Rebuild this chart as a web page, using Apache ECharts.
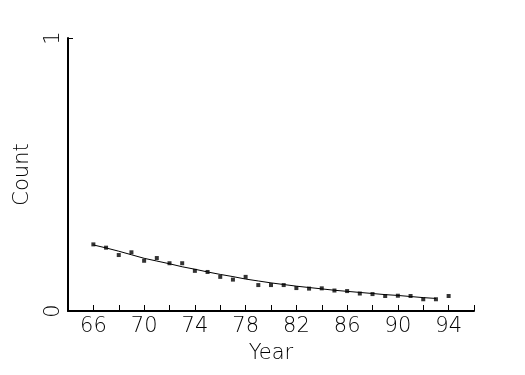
<!DOCTYPE html>
<html>
<head>
<meta charset="utf-8">
<script src="https://cdn.jsdelivr.net/npm/echarts@6/dist/echarts.min.js"></script>
<style>html,body{margin:0;padding:0;background:#fff;}#c{width:525px;height:375px;}</style>
</head>
<body>
<div id="c"></div>
<script>
var years = [66,67,68,69,70,71,72,73,74,75,76,77,78,79,80,81,82,83,84,85,86,87,88,89,90,91,92,93,94];
var counts = [0.244,0.232,0.205,0.215,0.184,0.194,0.175,0.175,0.147,0.143,0.125,0.115,0.125,0.095,0.095,0.095,0.084,0.082,0.083,0.075,0.073,0.064,0.062,0.055,0.056,0.055,0.043,0.043,0.055];
var fitYears = [66,67,68,69,70,71,72,73,74,75,76,77,78,79,80,81,82,83,84,85,86,87,88,89,90,91,92,93];
var fitValues = [0.242,0.231,0.219,0.206,0.193,0.183,0.173,0.162,0.153,0.143,0.134,0.126,0.117,0.110,0.103,0.097,0.091,0.086,0.081,0.076,0.072,0.068,0.064,0.060,0.057,0.053,0.049,0.046];
var xLabelYears = [66,70,74,78,82,86,90,94];
var yLabels = ['0','1'];

var font = 'DejaVu Sans';
var fw = 200;
var chart = echarts.init(document.getElementById('c'), null, {renderer:'canvas'});
chart.setOption({
  animation:false,
  backgroundColor:'#fff',
  grid:{left:68,right:51,top:38,bottom:64,containLabel:false},
  xAxis:{
    type:'value', min:64, max:96, interval:2,
    name:'Year', nameLocation:'middle', nameGap:32,
    nameTextStyle:{fontFamily:font,fontWeight:fw,fontSize:21,color:'#000'},
    axisLine:{show:true,onZero:false,lineStyle:{color:'#000',width:2}},
    axisTick:{show:true,inside:true,length:6,lineStyle:{color:'#000',width:1}},
    axisLabel:{show:true,margin:5,fontFamily:font,fontWeight:fw,fontSize:21,color:'#000',
      formatter:function(v){return xLabelYears.indexOf(v)>=0?String(v):'';}},
    splitLine:{show:false}
  },
  yAxis:{
    type:'value', min:0, max:1, interval:1,
    name:'Count', nameLocation:'middle', nameGap:35, nameRotate:90,
    nameTextStyle:{fontFamily:font,fontWeight:fw,fontSize:21,color:'#000'},
    axisLine:{show:true,lineStyle:{color:'#000',width:2}},
    axisTick:{show:true,inside:true,length:5,lineStyle:{color:'#000',width:1}},
    axisLabel:{show:true,rotate:90,margin:4,fontFamily:font,fontWeight:fw,fontSize:21,color:'#000',
      formatter:function(v){return yLabels[v];}},
    splitLine:{show:false}
  },
  series:[
    {type:'line',data:fitYears.map(function(y,i){return [y,fitValues[i]];}),
     showSymbol:false,symbol:'none',lineStyle:{color:'#000',width:1},z:2},
    {type:'scatter',data:years.map(function(y,i){return [y,counts[i]];}),
     symbol:'rect',symbolSize:4,itemStyle:{color:'#000'},z:3}
  ]
});
</script>
</body>
</html>
